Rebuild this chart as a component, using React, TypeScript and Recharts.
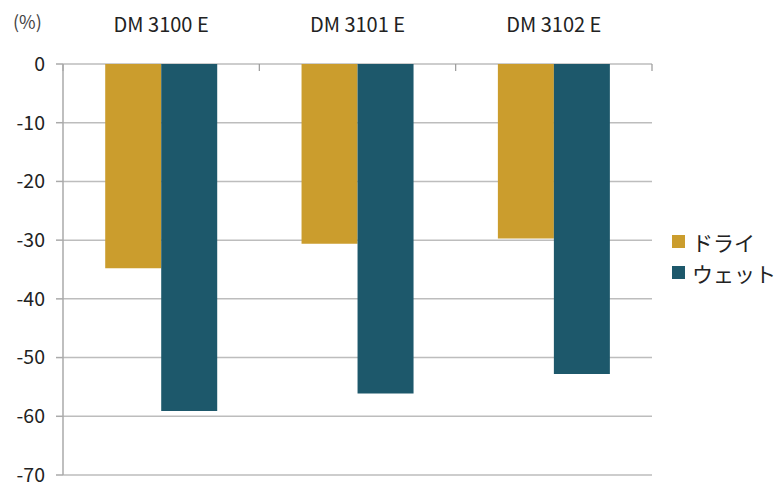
import React from 'react';
import {
  BarChart,
  Bar,
  XAxis,
  YAxis,
  CartesianGrid,
  Legend,
} from 'recharts';

const categories = ['DM 3100 E', 'DM 3101 E', 'DM 3102 E'];
const dryValues = [-34.8, -30.6, -29.7];
const wetValues = [-59.1, -56.1, -52.8];
const yTicks = [0, -10, -20, -30, -40, -50, -60, -70];
const boundaryTicks = [0, 1, 2, 3];

const data = categories.map((name, i) => ({
  name,
  idx: i + 0.5,
  dry: dryValues[i],
  wet: wetValues[i],
}));

const FONT = '"Noto Sans CJK JP", "Noto Sans", sans-serif';
const DRY = '#CB9D2D';
const WET = '#1D586B';

const LegendBox: React.FC = () => (
  <div style={{ fontFamily: FONT, fontSize: 21, color: '#222' }}>
    {[
      { label: 'ドライ', color: DRY },
      { label: 'ウェット', color: WET },
    ].map((item) => (
      <div key={item.label} style={{ display: 'flex', alignItems: 'center', height: 31, whiteSpace: 'nowrap' }}>
        <span style={{ width: 13, height: 13, background: item.color, marginRight: 7 }} />
        <span>{item.label}</span>
      </div>
    ))}
  </div>
);

// boundary tick marks only, no label
const EmptyTick = () => <g />;

const App: React.FC = () => {
  return (
    <div style={{ position: 'absolute', left: 0, top: 0, width: 781, height: 486, background: '#fff' }}>
      <div
        style={{
          position: 'absolute',
          left: 13,
          top: 8,
          fontFamily: FONT,
          fontSize: 18,
          color: '#444',
        }}
      >
        (%)
      </div>
      <BarChart
        width={781}
        height={486}
        data={data}
        margin={{ top: 0, right: 19, bottom: 11, left: 0 }}
        barCategoryGap="21.5%"
        barGap={0}
      >
        <CartesianGrid vertical={false} stroke="#BDBDBD" strokeWidth={1.5} />
        <XAxis
          dataKey="name"
          orientation="top"
          height={64}
          axisLine={false}
          tickLine={false}
          tickSize={0}
          tickMargin={32}
          tick={{ fontFamily: FONT, fontSize: 20, fill: '#222' }}
        />
        <XAxis
          xAxisId="bounds"
          type="number"
          dataKey="idx"
          domain={[0, 3]}
          ticks={boundaryTicks}
          orientation="top"
          height={1}
          mirror
          axisLine={false}
          tickSize={7}
          tickLine={{ stroke: '#999999', strokeWidth: 1.2 }}
          tick={EmptyTick}
          interval={0}
        />
        <YAxis
          domain={[-70, 0]}
          ticks={yTicks}
          width={63}
          axisLine={{ stroke: '#AAAAAA', strokeWidth: 1.5 }}
          tickLine={{ stroke: '#AAAAAA', strokeWidth: 1.5 }}
          tickSize={7}
          tickMargin={11}
          tick={{ fontFamily: FONT, fontSize: 19.5, fill: '#222' }}
          interval={0}
        />
        <Legend
          layout="vertical"
          align="right"
          verticalAlign="top"
          wrapperStyle={{ left: 672, top: 226, width: 110 }}
          content={() => <LegendBox />}
        />
        <Bar dataKey="dry" name="ドライ" fill={DRY} isAnimationActive={false} />
        <Bar dataKey="wet" name="ウェット" fill={WET} isAnimationActive={false} />
      </BarChart>
    </div>
  );
};

export default App;
